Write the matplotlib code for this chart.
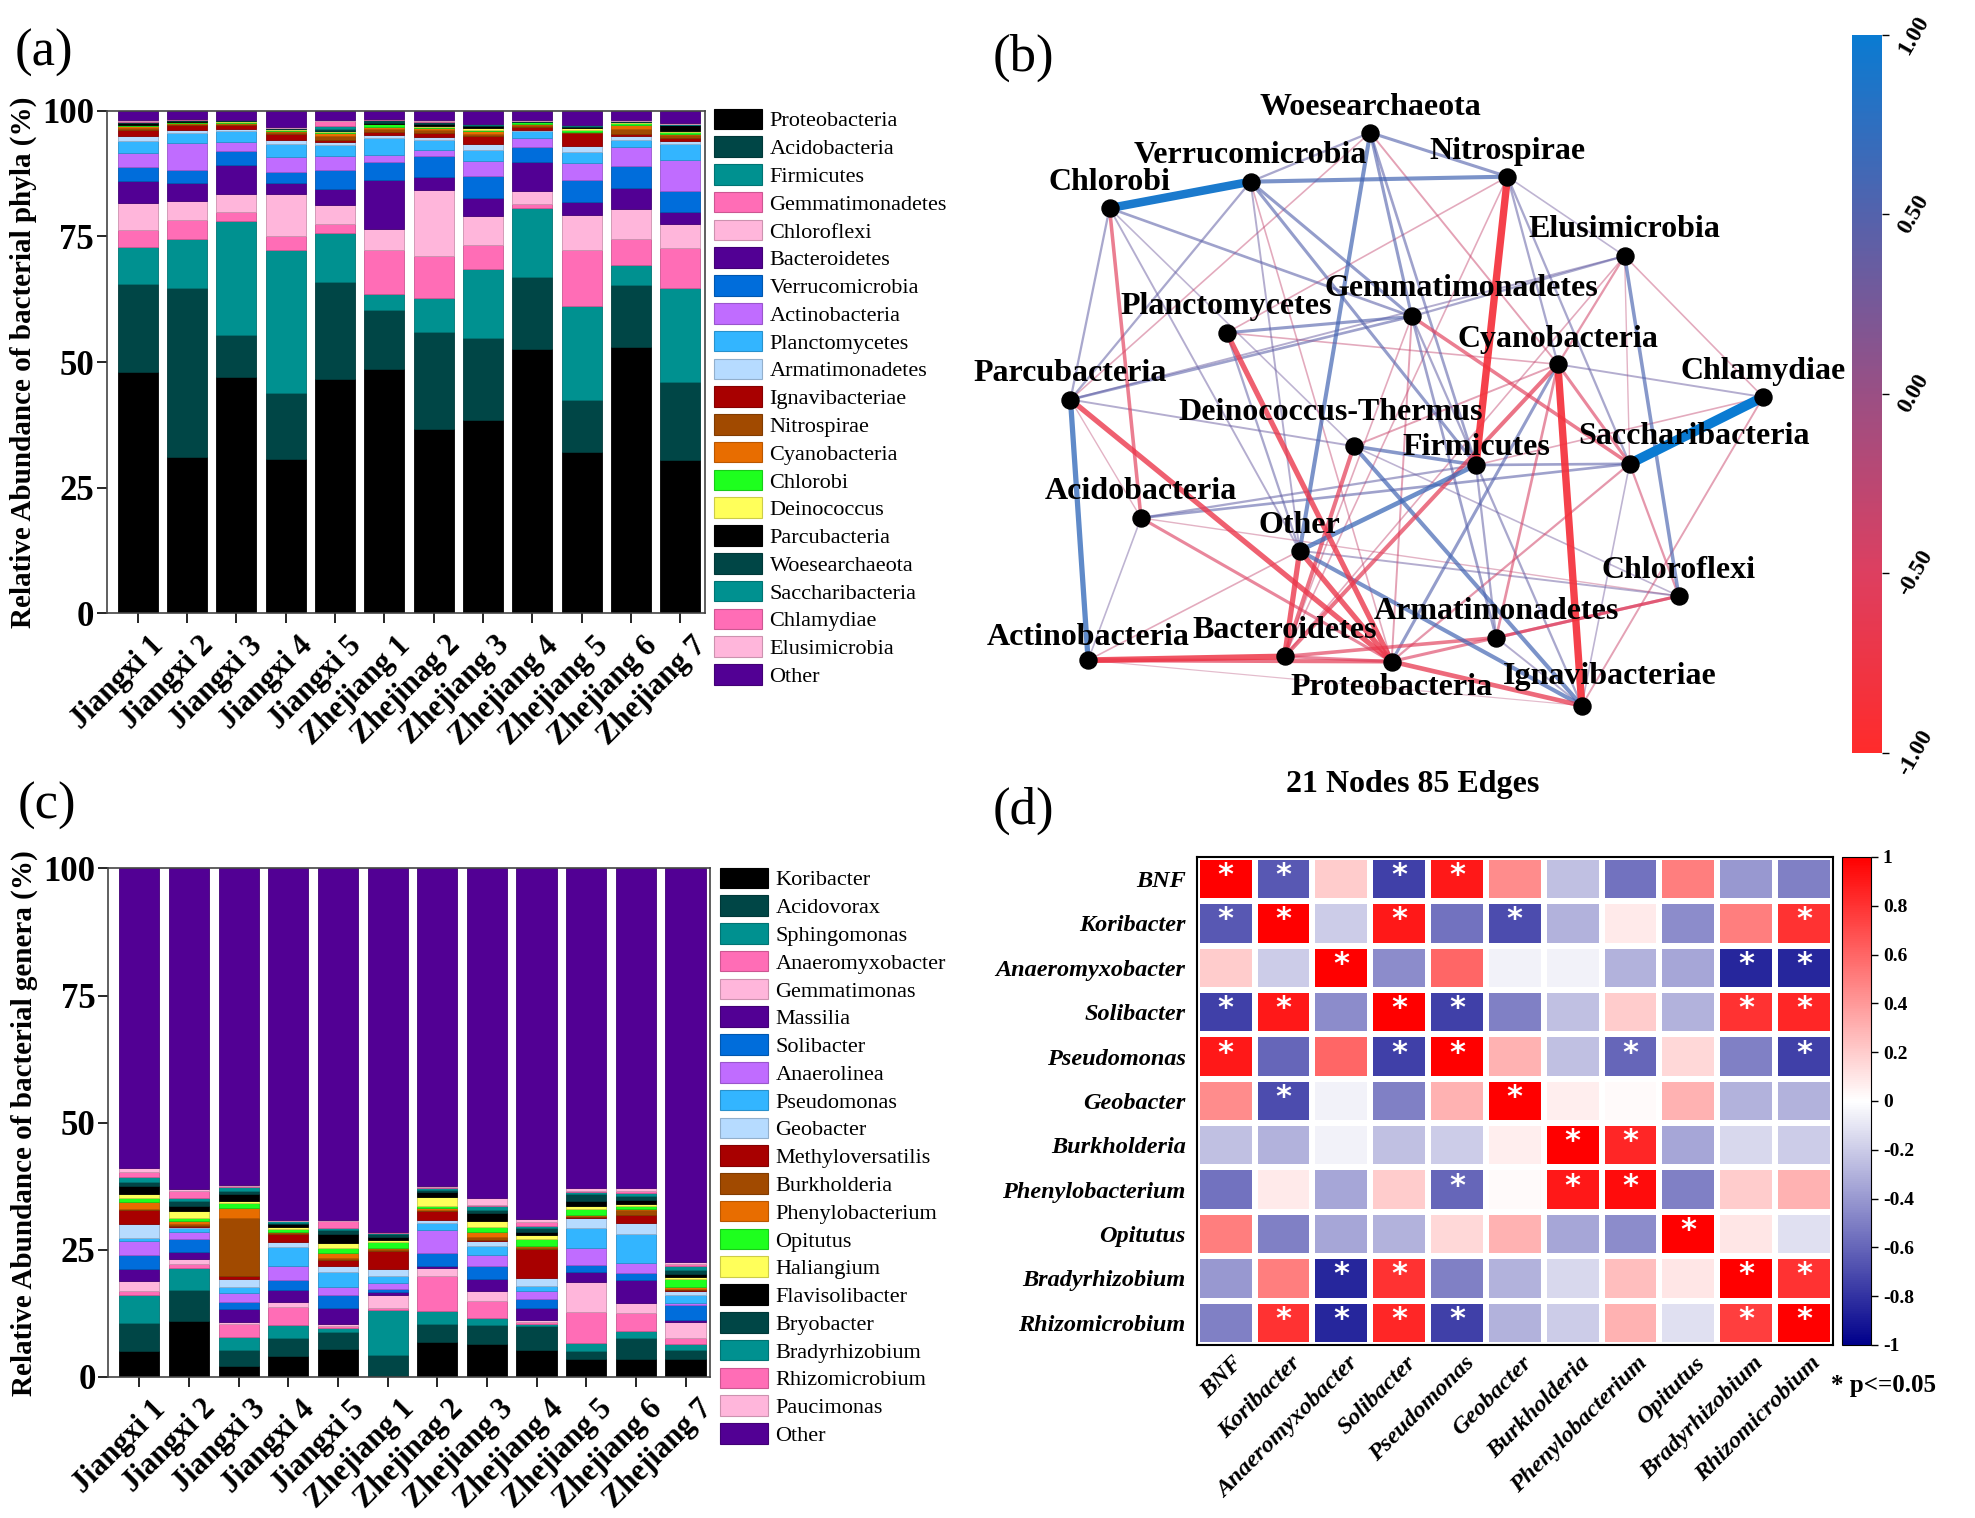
import matplotlib as mpl
import matplotlib.pyplot as plt
import numpy as np
from matplotlib.collections import LineCollection
from matplotlib.colors import LinearSegmentedColormap, to_rgb
from matplotlib.patches import Patch
from matplotlib.transforms import ScaledTranslation

plt.rcParams['font.family'] = ['Liberation Serif', 'DejaVu Serif']

SAMPLES = ['Jiangxi 1', 'Jiangxi 2', 'Jiangxi 3', 'Jiangxi 4', 'Jiangxi 5',
           'Zhejiang 1', 'Zhejinag 2', 'Zhejiang 3', 'Zhejiang 4', 'Zhejiang 5',
           'Zhejiang 6', 'Zhejiang 7']

# ---- (a) phyla, % per sample ----
proteobacteria = [48.1, 31.1, 47.0, 30.8, 46.6, 48.7, 36.7, 38.4, 52.6, 32.0, 52.9, 30.5]
acidobacteria = [17.4, 33.7, 8.4, 13.0, 19.3, 11.6, 19.3, 16.4, 14.4, 10.4, 12.5, 15.5]
firmicutes = [7.3, 9.7, 22.6, 28.4, 9.8, 3.3, 6.8, 13.8, 13.7, 18.8, 3.9, 18.8]
gemmatimonadetes = [3.5, 3.8, 1.9, 2.8, 1.7, 8.7, 8.4, 4.7, 0.7, 11.1, 5.1, 7.8]
chloroflexi = [5.4, 3.8, 3.6, 8.4, 3.8, 4.2, 13.0, 5.7, 2.6, 6.9, 6.1, 4.8]
bacteroidetes = [4.4, 3.6, 5.8, 2.2, 3.3, 9.8, 2.6, 3.7, 5.8, 2.6, 4.1, 2.4]
verrucomicrobia = [2.7, 2.5, 2.8, 2.2, 3.7, 3.6, 4.3, 4.3, 3.0, 4.5, 4.4, 4.3]
actinobacteria = [2.9, 5.4, 1.7, 3.1, 2.9, 1.4, 1.1, 3.0, 1.7, 3.4, 3.8, 6.1]
planctomycetes = [2.2, 2.0, 2.1, 2.5, 2.1, 3.2, 1.9, 2.3, 1.4, 2.1, 1.4, 3.1]
armatimonadetes = [1.0, 0.6, 0.5, 0.7, 0.6, 0.6, 0.7, 1.0, 0.3, 1.2, 0.8, 0.6]
ignavibacteriae = [1.2, 0.9, 0.8, 1.3, 0.4, 0.7, 0.8, 1.6, 0.6, 2.5, 0.4, 0.7]
nitrospirae = [0.4, 0.3, 0.2, 0.3, 0.7, 0.5, 0.5, 0.4, 0.3, 0.2, 1.0, 0.6]
cyanobacteria = [0.4, 0.2, 0.2, 0.2, 0.6, 0.4, 0.4, 0.6, 0.2, 0.1, 0.8, 0.2]
chlorobi = [0.2, 0.1, 0.2, 0.2, 0.3, 0.6, 0.3, 0.3, 0.4, 0.4, 0.4, 0.4]
deinococcus = [0.1, 0.1, 0.1, 0.2, 0.1, 0.1, 0.1, 0.3, 0.1, 0.3, 0.1, 0.2]
parcubacteria = [0.3, 0.2, 0.1, 0.1, 0.1, 0.1, 0.4, 0.4, 0.0, 0.2, 0.0, 1.1]
woesearchaeota = [0.2, 0.1, 0.1, 0.1, 0.4, 0.6, 0.4, 0.3, 0.1, 0.3, 0.3, 0.1]
saccharibacteria = [0.1, 0.1, 0.0, 0.0, 0.5, 0.1, 0.1, 0.1, 0.0, 0.1, 0.0, 0.1]
chlamydiae = [0.2, 0.1, 0.0, 0.1, 1.1, 0.1, 0.1, 0.0, 0.0, 0.0, 0.0, 0.0]
elusimicrobia = [0.1, 0.0, 0.0, 0.1, 0.1, 0.0, 0.2, 0.1, 0.2, 0.1, 0.1, 0.2]
phyla_other = [1.9, 1.7, 1.9, 3.3, 1.9, 1.7, 1.9, 2.6, 1.9, 2.8, 1.9, 2.5]

PHYLA_LABELS = ['Proteobacteria', 'Acidobacteria', 'Firmicutes', 'Gemmatimonadetes',
                'Chloroflexi', 'Bacteroidetes', 'Verrucomicrobia', 'Actinobacteria',
                'Planctomycetes', 'Armatimonadetes', 'Ignavibacteriae', 'Nitrospirae',
                'Cyanobacteria', 'Chlorobi', 'Deinococcus', 'Parcubacteria',
                'Woesearchaeota', 'Saccharibacteria', 'Chlamydiae', 'Elusimicrobia', 'Other']

# ---- (c) genera, % per sample ----
koribacter = [5.2, 11.1, 2.2, 4.2, 5.5, 0.1, 6.9, 6.4, 5.4, 3.5, 3.5, 3.5]
acidovorax = [5.5, 6.1, 3.2, 3.4, 3.3, 4.3, 3.5, 3.9, 4.7, 1.7, 4.1, 1.9]
sphingomonas = [5.5, 4.2, 2.5, 2.7, 0.8, 8.8, 2.6, 1.2, 0.3, 1.5, 1.5, 1.0]
anaeromyxobacter = [0.7, 0.8, 2.5, 3.5, 0.5, 0.4, 6.9, 3.4, 0.5, 6.1, 3.4, 1.3]
gemmatimonas = [2.0, 1.0, 0.5, 0.9, 0.3, 2.5, 1.5, 2.0, 0.3, 5.9, 2.0, 3.1]
massilia = [2.4, 1.4, 2.4, 2.5, 3.2, 0.6, 0.5, 2.4, 2.4, 2.0, 4.6, 0.5]
solibacter = [2.6, 2.6, 1.4, 1.9, 2.5, 0.6, 2.4, 2.5, 1.7, 1.3, 1.4, 2.9]
anaerolinea = [2.8, 1.3, 1.8, 2.7, 1.5, 1.2, 4.7, 2.1, 1.6, 3.3, 1.9, 0.4]
pseudomonas = [0.6, 0.7, 1.2, 3.8, 3.1, 1.4, 1.3, 1.9, 0.9, 3.9, 5.8, 1.5]
geobacter = [2.8, 0.3, 1.5, 1.0, 1.1, 1.3, 0.5, 0.9, 1.7, 2.0, 2.0, 0.8]
methyloversatilis = [2.7, 0.2, 0.7, 1.6, 1.3, 3.6, 1.8, 0.3, 5.6, 0.2, 1.7, 0.3]
burkholderia = [0.3, 0.3, 11.3, 0.3, 0.3, 0.3, 0.3, 0.5, 0.4, 0.3, 1.0, 0.1]
phenylobacterium = [1.4, 0.7, 2.0, 0.1, 0.9, 0.2, 0.3, 1.0, 0.3, 0.2, 0.2, 0.3]
opitutus = [0.6, 0.5, 1.1, 0.5, 1.0, 1.3, 0.5, 1.0, 1.4, 1.1, 0.5, 1.6]
haliangium = [0.8, 1.5, 0.3, 0.4, 1.1, 0.4, 1.6, 1.2, 0.8, 0.6, 0.5, 0.5]
flavisolibacter = [1.7, 0.9, 1.3, 0.5, 1.8, 0.6, 1.0, 1.5, 0.5, 1.1, 0.8, 0.6]
bryobacter = [0.8, 1.0, 0.7, 0.3, 0.7, 0.6, 0.5, 0.7, 0.7, 1.2, 0.7, 0.8]
bradyrhizobium = [0.9, 0.5, 0.7, 0.3, 0.4, 0.2, 0.3, 0.7, 0.5, 0.4, 0.5, 0.7]
rhizomicrobium = [1.0, 1.5, 0.3, 0.1, 1.4, 0.1, 0.2, 0.3, 0.8, 0.3, 0.5, 0.4]
paucimonas = [0.7, 0.4, 0.2, 0.2, 0.2, 0.1, 0.2, 1.2, 0.6, 0.5, 0.5, 0.4]
genera_other = [59.0, 63.0, 62.2, 69.1, 69.1, 71.4, 62.5, 64.9, 68.9, 62.9, 62.9, 77.4]

GENERA_LABELS = ['Koribacter', 'Acidovorax', 'Sphingomonas', 'Anaeromyxobacter',
                 'Gemmatimonas', 'Massilia', 'Solibacter', 'Anaerolinea', 'Pseudomonas',
                 'Geobacter', 'Methyloversatilis', 'Burkholderia', 'Phenylobacterium',
                 'Opitutus', 'Haliangium', 'Flavisolibacter', 'Bryobacter',
                 'Bradyrhizobium', 'Rhizomicrobium', 'Paucimonas', 'Other']

# 15-colour palette, repeated after Deinococcus / Haliangium
PALETTE = ['#000000', '#004646', '#009190', '#FF6DB6', '#FFB6DB', '#520094',
           '#006DDB', '#C06CFF', '#33B5FF', '#B6DBFF', '#A80000', '#A14A00',
           '#E86D00', '#1EFF1E', '#FFFF5A']
TAXA_COLORS = PALETTE + PALETTE[:5] + ['#520094']

# ---- (b) co-occurrence network ----
NODE_NAMES = ['Woesearchaeota', 'Verrucomicrobia', 'Nitrospirae', 'Chlorobi',
              'Elusimicrobia', 'Gemmatimonadetes', 'Planctomycetes', 'Cyanobacteria',
              'Chlamydiae', 'Parcubacteria', 'Deinococcus-Thermus', 'Firmicutes',
              'Saccharibacteria', 'Acidobacteria', 'Other', 'Chloroflexi',
              'Armatimonadetes', 'Actinobacteria', 'Bacteroidetes', 'Proteobacteria',
              'Ignavibacteriae']
NODE_X = [1088, 993, 1197, 881, 1290, 1121, 974, 1237, 1400, 850, 1075, 1172,
          1294, 906, 1032, 1333, 1188, 864, 1020, 1105, 1256]
NODE_Y = [105, 144, 140, 165, 203, 251, 264, 289, 315, 317, 354, 369,
          368, 411, 437, 473, 506, 524, 521, 525, 560]
LABEL_DX = [0, 0, 0, 0, 0, 39, 0, 0, 0, 0, -18, 0, 51, 0, 0, 0, 0, 0, 0, 0, 22]
LABEL_DY = [-20, -21, -20, -20, -21, -22, -21, -20, -20, -21, -27, -14, -22,
            -21, -20, -20, -21, -18, -21, 21, -23]

EDGES = [
    ('Chlorobi', 'Verrucomicrobia', 0.92), ('Chlamydiae', 'Saccharibacteria', 1.0),
    ('Parcubacteria', 'Actinobacteria', 0.70), ('Verrucomicrobia', 'Nitrospirae', 0.60),
    ('Woesearchaeota', 'Nitrospirae', 0.50), ('Woesearchaeota', 'Verrucomicrobia', 0.40),
    ('Woesearchaeota', 'Other', 0.60), ('Woesearchaeota', 'Gemmatimonadetes', 0.50),
    ('Chlorobi', 'Gemmatimonadetes', 0.45), ('Chlorobi', 'Parcubacteria', 0.40),
    ('Chlorobi', 'Acidobacteria', -0.55), ('Chlorobi', 'Deinococcus-Thermus', 0.30),
    ('Chlorobi', 'Other', 0.35), ('Verrucomicrobia', 'Firmicutes', 0.50),
    ('Verrucomicrobia', 'Gemmatimonadetes', 0.50), ('Verrucomicrobia', 'Parcubacteria', 0.40),
    ('Verrucomicrobia', 'Other', 0.35), ('Nitrospirae', 'Firmicutes', -0.85),
    ('Nitrospirae', 'Saccharibacteria', 0.40), ('Elusimicrobia', 'Chloroflexi', 0.55),
    ('Elusimicrobia', 'Gemmatimonadetes', 0.40), ('Elusimicrobia', 'Parcubacteria', 0.35),
    ('Planctomycetes', 'Gemmatimonadetes', 0.50), ('Planctomycetes', 'Proteobacteria', -0.70),
    ('Planctomycetes', 'Other', 0.40), ('Parcubacteria', 'Gemmatimonadetes', 0.45),
    ('Parcubacteria', 'Proteobacteria', -0.70), ('Parcubacteria', 'Deinococcus-Thermus', 0.35),
    ('Deinococcus-Thermus', 'Firmicutes', 0.55), ('Deinococcus-Thermus', 'Ignavibacteriae', 0.60),
    ('Deinococcus-Thermus', 'Bacteroidetes', -0.60), ('Other', 'Firmicutes', 0.65),
    ('Other', 'Ignavibacteriae', 0.60), ('Other', 'Bacteroidetes', -0.70),
    ('Other', 'Proteobacteria', -0.70), ('Other', 'Chloroflexi', 0.35),
    ('Cyanobacteria', 'Ignavibacteriae', -0.85), ('Cyanobacteria', 'Proteobacteria', 0.50),
    ('Cyanobacteria', 'Bacteroidetes', -0.60), ('Cyanobacteria', 'Chlamydiae', 0.35),
    ('Cyanobacteria', 'Saccharibacteria', -0.50), ('Gemmatimonadetes', 'Armatimonadetes', 0.45),
    ('Gemmatimonadetes', 'Saccharibacteria', -0.55), ('Gemmatimonadetes', 'Ignavibacteriae', 0.40),
    ('Acidobacteria', 'Saccharibacteria', 0.45), ('Acidobacteria', 'Proteobacteria', -0.50),
    ('Acidobacteria', 'Actinobacteria', 0.30), ('Actinobacteria', 'Bacteroidetes', -0.75),
    ('Actinobacteria', 'Proteobacteria', -0.60), ('Bacteroidetes', 'Proteobacteria', -0.50),
    ('Bacteroidetes', 'Armatimonadetes', -0.55), ('Proteobacteria', 'Ignavibacteriae', -0.65),
    ('Proteobacteria', 'Chloroflexi', -0.50), ('Chloroflexi', 'Armatimonadetes', -0.50),
    ('Chloroflexi', 'Saccharibacteria', -0.40), ('Chlamydiae', 'Elusimicrobia', -0.30),
    ('Chlamydiae', 'Ignavibacteriae', -0.35), ('Chlamydiae', 'Firmicutes', -0.30),
    ('Saccharibacteria', 'Firmicutes', 0.45), ('Saccharibacteria', 'Ignavibacteriae', 0.30),
    ('Firmicutes', 'Armatimonadetes', 0.40), ('Firmicutes', 'Acidobacteria', 0.40),
    ('Elusimicrobia', 'Cyanobacteria', -0.40), ('Nitrospirae', 'Cyanobacteria', 0.40),
    ('Nitrospirae', 'Planctomycetes', -0.30), ('Woesearchaeota', 'Firmicutes', 0.45),
    ('Woesearchaeota', 'Parcubacteria', -0.30), ('Woesearchaeota', 'Cyanobacteria', -0.35),
    ('Verrucomicrobia', 'Proteobacteria', -0.30), ('Planctomycetes', 'Cyanobacteria', -0.30),
    ('Acidobacteria', 'Chloroflexi', -0.25), ('Actinobacteria', 'Ignavibacteriae', -0.20),
    ('Actinobacteria', 'Other', -0.30), ('Parcubacteria', 'Acidobacteria', -0.25),
    ('Deinococcus-Thermus', 'Chloroflexi', 0.30), ('Deinococcus-Thermus', 'Cyanobacteria', -0.35),
    ('Gemmatimonadetes', 'Proteobacteria', -0.35), ('Gemmatimonadetes', 'Bacteroidetes', -0.30),
    ('Elusimicrobia', 'Saccharibacteria', -0.25), ('Elusimicrobia', 'Bacteroidetes', -0.30),
    ('Nitrospirae', 'Bacteroidetes', -0.30), ('Nitrospirae', 'Elusimicrobia', 0.30),
    ('Cyanobacteria', 'Armatimonadetes', -0.45), ('Armatimonadetes', 'Ignavibacteriae', 0.35),
    ('Saccharibacteria', 'Proteobacteria', -0.40),
]

# ---- (d) Spearman correlation matrix ----
HEAT_LABELS = ['BNF', 'Koribacter', 'Anaeromyxobacter', 'Solibacter', 'Pseudomonas',
               'Geobacter', 'Burkholderia', 'Phenylobacterium', 'Opitutus',
               'Bradyrhizobium', 'Rhizomicrobium']
CORR = [
    [1.00, -0.65, 0.20, -0.75, 0.90, 0.45, -0.25, -0.55, 0.50, -0.40, -0.50],
    [-0.65, 1.00, -0.20, 0.90, -0.55, -0.70, -0.30, 0.08, -0.45, 0.50, 0.80],
    [0.20, -0.20, 1.00, -0.45, 0.60, -0.05, -0.05, -0.30, -0.35, -0.85, -0.85],
    [-0.75, 0.90, -0.45, 1.00, -0.75, -0.50, -0.25, 0.20, -0.30, 0.80, 0.85],
    [0.90, -0.60, 0.60, -0.75, 1.00, 0.30, -0.25, -0.60, 0.15, -0.50, -0.75],
    [0.45, -0.70, -0.05, -0.50, 0.30, 1.00, 0.07, 0.02, 0.30, -0.30, -0.30],
    [-0.25, -0.30, -0.05, -0.25, -0.20, 0.07, 1.00, 0.85, -0.35, -0.15, -0.20],
    [-0.55, 0.08, -0.35, 0.20, -0.60, 0.02, 0.90, 0.95, -0.50, 0.20, 0.30],
    [0.50, -0.50, -0.35, -0.30, 0.15, 0.30, -0.35, -0.45, 1.00, 0.10, -0.12],
    [-0.40, 0.50, -0.85, 0.80, -0.50, -0.30, -0.15, 0.25, 0.10, 1.00, 0.80],
    [-0.50, 0.80, -0.85, 0.85, -0.75, -0.30, -0.20, 0.30, -0.12, 0.75, 1.00],
]
SIG = [
    [0, 1, 3, 4], [0, 1, 3, 5, 10], [2, 9, 10], [0, 1, 3, 4, 9, 10], [0, 3, 4, 7, 10],
    [1, 5], [6, 7], [4, 6, 7], [8], [2, 3, 9, 10], [1, 2, 3, 4, 9, 10],
]


def darker(color, f=0.8):
    return tuple(c * f for c in to_rgb(color))


def shift_labels(fig, labels, dx_in, dy_in=0.0):
    # must run after tick_params, which resets the label transforms
    offset = ScaledTranslation(dx_in, dy_in, fig.dpi_scale_trans)
    for t in labels:
        t.set_transform(t.get_transform() + offset)


def stacked_panel(fig, rect, series, labels, ylabel, legend_xy):
    ax = fig.add_axes(rect)
    x = np.arange(len(SAMPLES))
    bottom = np.zeros(len(SAMPLES))
    handles = []
    for vals, lab, col in zip(series, labels, TAXA_COLORS):
        vals = np.asarray(vals, dtype=float)
        ax.bar(x, vals, width=0.81, bottom=bottom, color=col,
               edgecolor=darker(col), linewidth=0.6)
        bottom += vals
        handles.append(Patch(facecolor=col, edgecolor=darker(col), linewidth=0.8, label=lab))

    ax.set_xlim(-0.63, len(SAMPLES) - 0.5)
    ax.set_ylim(0, 100)
    ax.set_yticks([0, 25, 50, 75, 100])
    ax.set_xticks(x)
    ax.tick_params(axis='x', length=7, width=1.2, pad=8)
    ax.tick_params(axis='y', length=7, width=1.2, labelsize=25, pad=2)
    ax.set_xticklabels(SAMPLES, rotation=45, ha='right', va='center',
                       rotation_mode='anchor', fontsize=22, fontweight='bold')
    shift_labels(fig, ax.get_xticklabels(), 0.22, -0.07)
    for t in ax.get_yticklabels():
        t.set_fontweight('bold')
    for s in ax.spines.values():
        s.set_color('#444444')
        s.set_linewidth(1.2)
    ax.set_ylabel(ylabel, fontsize=21, fontweight='bold', labelpad=4)

    ax.legend(handles=handles, loc='upper left', bbox_to_anchor=legend_xy,
              bbox_transform=fig.transFigure, frameon=False, fontsize=16,
              handlelength=2.15, handleheight=1.05, labelspacing=0.22,
              handletextpad=0.35, borderpad=0, borderaxespad=0)
    return ax


fig = plt.figure(figsize=(19.75, 15.18), dpi=100)

phyla_series = [proteobacteria, acidobacteria, firmicutes, gemmatimonadetes, chloroflexi,
                bacteroidetes, verrucomicrobia, actinobacteria, planctomycetes,
                armatimonadetes, ignavibacteriae, nitrospirae, cyanobacteria, chlorobi,
                deinococcus, parcubacteria, woesearchaeota, saccharibacteria, chlamydiae,
                elusimicrobia, phyla_other]
genera_series = [koribacter, acidovorax, sphingomonas, anaeromyxobacter, gemmatimonas,
                 massilia, solibacter, anaerolinea, pseudomonas, geobacter,
                 methyloversatilis, burkholderia, phenylobacterium, opitutus, haliangium,
                 flavisolibacter, bryobacter, bradyrhizobium, rhizomicrobium, paucimonas,
                 genera_other]

stacked_panel(fig, [0.054, 0.596, 0.303, 0.331], phyla_series, PHYLA_LABELS,
              'Relative Abundance of bacterial phyla (%)', (0.3615, 0.9285))
stacked_panel(fig, [0.0547, 0.0929, 0.305, 0.335], genera_series, GENERA_LABELS,
              'Relative Abundance of bacterial genera (%)', (0.3645, 0.4285))

# ---- (b) network ----
net_cmap = LinearSegmentedColormap.from_list(
    'net', ['#FF2B2B', '#DD3F60', '#9A4F84', '#5462AC', '#0A7BD2'])
axb = fig.add_axes([0.491, 0.502, 0.44, 0.448])
axb.set_xlim(770, 1460)
axb.set_ylim(600, 60)
axb.axis('off')

pos = {n: (x, y) for n, x, y in zip(NODE_NAMES, NODE_X, NODE_Y)}
order = sorted(EDGES, key=lambda e: abs(e[2]))
segs, cols, widths = [], [], []
for a, b, r in order:
    segs.append([pos[a], pos[b]])
    rgba = list(net_cmap((r + 1) / 2))
    rgba[3] = min(1.0, 0.2 + 0.85 * abs(r))
    cols.append(rgba)
    widths.append(0.6 + 6.5 * abs(r) ** 2)
axb.add_collection(LineCollection(segs, colors=cols, linewidths=widths, capstyle='round'))
axb.scatter(NODE_X, NODE_Y, s=150, color='black', zorder=3)
for n, x, y, dx, dy in zip(NODE_NAMES, NODE_X, NODE_Y, LABEL_DX, LABEL_DY):
    axb.text(x + dx, y + dy, n, ha='center', va='center', fontsize=23,
             fontweight='bold', zorder=4)

caxb = fig.add_axes([0.9377, 0.504, 0.0152, 0.473])
cbb = fig.colorbar(mpl.cm.ScalarMappable(norm=mpl.colors.Normalize(-1, 1), cmap=net_cmap),
                   cax=caxb, ticks=[-1, -0.5, 0, 0.5, 1])
cbb.outline.set_visible(False)
cbb.ax.tick_params(length=5, width=1)
cbb.ax.set_yticklabels(['-1.00', '-0.50', '0.00', '0.50', '1.00'], rotation=60,
                       fontsize=17, fontweight='bold', va='center')
fig.text(0.7155, 0.483, f'{len(NODE_NAMES)} Nodes {len(EDGES)} Edges',
         ha='center', va='center', fontsize=23, fontweight='bold')

# ---- (d) heatmap ----
heat_cmap = LinearSegmentedColormap.from_list('heat', ['#00008B', '#FFFFFF', '#FF0000'])
axd = fig.add_axes([0.606, 0.114, 0.322, 0.3215])
n = len(HEAT_LABELS)
mesh = axd.pcolormesh(np.arange(n + 1), np.arange(n + 1), np.array(CORR), cmap=heat_cmap,
                      vmin=-1, vmax=1, edgecolors='white', linewidth=3)
for i, cols_sig in enumerate(SIG):
    for j in cols_sig:
        axd.text(j + 0.5, i + 0.42, '*', ha='center', va='center', color='white',
                 fontsize=22, fontweight='bold', family='DejaVu Sans')
axd.set_xlim(0, n)
axd.set_ylim(n, 0)
axd.set_xticks(np.arange(n) + 0.5)
axd.set_yticks(np.arange(n) + 0.5)
axd.tick_params(length=0, pad=8)
axd.set_xticklabels(HEAT_LABELS, rotation=45, ha='right', va='center',
                    rotation_mode='anchor', fontsize=17.5, fontweight='bold', style='italic')
shift_labels(fig, axd.get_xticklabels(), 0.14, -0.04)
axd.set_yticklabels(HEAT_LABELS, fontsize=17.5, fontweight='bold', style='italic')
for s in axd.spines.values():
    s.set_linewidth(1.5)

caxd = fig.add_axes([0.9327, 0.114, 0.0147, 0.3215])
cbd = fig.colorbar(mesh, cax=caxd, ticks=np.linspace(-1, 1, 11))
cbd.ax.tick_params(length=5, width=1)
cbd.ax.set_yticklabels(['-1', '-0.8', '-0.6', '-0.4', '-0.2', '0', '0.2', '0.4', '0.6',
                        '0.8', '1'], fontsize=14, fontweight='bold')
fig.text(0.9535, 0.087, '* p<=0.05', ha='center', va='center', fontsize=18,
         fontweight='bold')

# panel letters
for xy, lab in [((0.022, 0.965), '(a)'), ((0.518, 0.962), '(b)'),
                ((0.024, 0.469), '(c)'), ((0.518, 0.466), '(d)')]:
    fig.text(xy[0], xy[1], lab, ha='center', va='center', fontsize=38)

fig.savefig('out.png', dpi=100)
